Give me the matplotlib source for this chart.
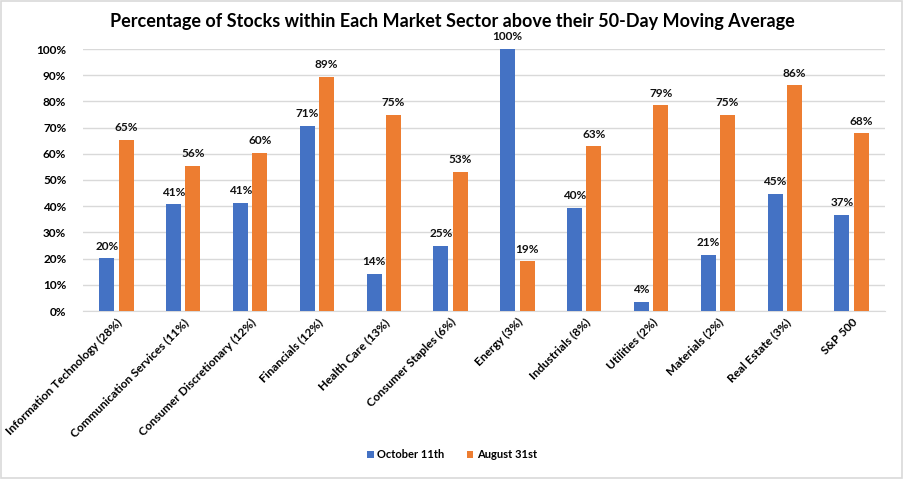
import matplotlib
matplotlib.use('Agg')
import matplotlib.pyplot as plt
import numpy as np

plt.rcParams['font.family'] = ['Lato', 'DejaVu Sans']

sectors = ['Information Technology (28%)', 'Communication Services (11%)',
           'Consumer Discretionary (12%)', 'Financials (12%)', 'Health Care (13%)',
           'Consumer Staples (6%)', 'Energy (3%)', 'Industrials (8%)', 'Utilities (2%)',
           'Materials (2%)', 'Real Estate (3%)', 'S&P 500']
oct_11 = [20.1, 40.7, 41.3, 70.8, 14.3, 25.0, 100.0, 39.5, 3.5, 21.4, 44.8, 36.7]
aug_31 = [65.3, 55.5, 60.3, 89.3, 74.9, 53.1, 19.0, 62.8, 78.6, 75.0, 86.2, 67.9]

blue = '#4472C4'
orange = '#ED7D31'

fig = plt.figure(figsize=(9.04, 4.79), dpi=100)
ax = fig.add_axes([83 / 904, 1 - 311 / 479, (885 - 83) / 904, (311 - 49) / 479])

x = np.arange(len(sectors))
w = 0.225
off = 0.145
b1 = ax.bar(x - off, oct_11, w, color=blue, label='October 11th', zorder=3)
b2 = ax.bar(x + off, aug_31, w, color=orange, label='August 31st', zorder=3)

for bars, vals in ((b1, oct_11), (b2, aug_31)):
    for rect, v in zip(bars, vals):
        ax.text(rect.get_x() + rect.get_width() / 2, v + 2.5, '%d%%' % round(v),
                ha='center', va='bottom', fontsize=8.5, fontweight='bold', color='#111111')

ax.set_xlim(-0.5, len(sectors) - 0.5)
ax.set_ylim(0, 100)
ax.set_yticks(range(0, 101, 10))
ax.set_yticklabels(['%d%%' % t for t in range(0, 101, 10)], fontsize=8.5, fontweight='bold')
ax.yaxis.grid(True, color='#d9d9d9', linewidth=1, zorder=0)
ax.tick_params(axis='y', length=0, pad=12)
ax.tick_params(axis='x', length=0, pad=4)
ax.set_xticks(x)
ax.set_xticklabels(sectors, rotation=45, ha='right', rotation_mode='anchor',
                   fontsize=8.5, fontweight='bold')
for s in ('top', 'right', 'left'):
    ax.spines[s].set_visible(False)
ax.spines['bottom'].set_color('#d9d9d9')

fig.text(0.5, 1 - 22 / 479, 'Percentage of Stocks within Each Market Sector above their 50-Day Moving Average',
         ha='center', va='center', fontsize=13, fontweight='bold')

fig.legend(handles=[b1, b2], loc='center', bbox_to_anchor=(0.5, 1 - 455 / 479), ncol=2,
           frameon=False, prop={'weight': 'bold', 'size': 8},
           handlelength=0.6, handleheight=0.6, columnspacing=2.0, handletextpad=0.3)

fig.patches.append(plt.Rectangle((0.001, 0.002), 0.997, 0.996, transform=fig.transFigure,
                                 fill=False, edgecolor='#d9d9d9', linewidth=1.2))

fig.savefig('out.png', dpi=100)
